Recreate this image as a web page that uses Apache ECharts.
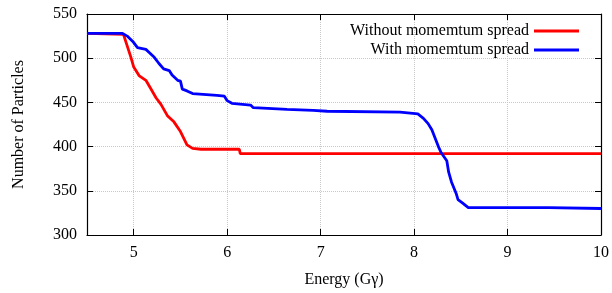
<!DOCTYPE html>
<html>
<head>
<meta charset="utf-8">
<script src="https://cdn.jsdelivr.net/npm/echarts@6/dist/echarts.min.js"></script>
<style>
  html, body { margin: 0; padding: 0; background: #fff; }
  #chart { width: 612px; height: 293px; }
</style>
</head>
<body>
<div id="chart"></div>
<script>
// values
const energyRed = [4.5, 4.89, 4.93, 4.97, 5.00, 5.06, 5.13, 5.18, 5.24, 5.29, 5.36, 5.43, 5.50, 5.57, 5.63, 5.72, 6.13, 6.14, 10];
const countRed = [528, 527, 514, 501, 490, 480, 475, 466, 455, 448, 435, 428, 417, 402, 398, 397, 397, 392, 392];

const energyBlue = [4.5, 4.88, 4.93, 4.99, 5.04, 5.13, 5.16, 5.22, 5.27, 5.32, 5.38, 5.41, 5.47, 5.50, 5.52, 5.57, 5.63, 5.89, 5.97, 6.00, 6.05, 6.25, 6.28, 6.64, 6.92, 7.07, 7.85, 8.04, 8.10, 8.15, 8.19, 8.26, 8.29, 8.35, 8.37, 8.40, 8.45, 8.47, 8.52, 8.58, 9.44, 9.46, 10];
const countBlue = [528, 528, 525, 519, 512, 510, 507, 501, 494, 488, 486, 481, 475, 474, 465, 463, 460, 458, 457, 452, 449, 447, 444, 442, 441, 440, 439, 437, 432, 426, 419, 400, 393, 384, 371, 360, 347, 340, 336, 331, 331, 330, 330];

const xTicks = [5, 6, 7, 8, 9, 10];
const seriesNames = ['Without momemtum spread', 'With momemtum spread'];

const font = 'Liberation Serif';
const chart = echarts.init(document.getElementById('chart'));

const zip = (xs, ys) => xs.map((x, i) => [x, ys[i]]);

const tickStyle = { show: true, inside: true, length: 6, lineStyle: { color: '#000', width: 1 } };
const lineStyleAxis = { show: true, lineStyle: { color: '#000', width: 1.2 } };
const grid = { show: true, type: 'dotted', color: '#c8c8c8', width: 1 };

chart.setOption({
  animation: false,
  grid: { left: 87, right: 10, top: 14, bottom: 52 },
  legend: {
    orient: 'vertical',
    right: 28,
    top: 18,
    align: 'right',
    itemGap: 3,
    itemWidth: 45,
    itemHeight: 3,
    icon: 'rect',
    textStyle: { fontFamily: font, fontSize: 16, color: '#000' },
    data: seriesNames
  },
  xAxis: [
    {
      type: 'value', min: 4.5, max: 10,
      name: 'Energy (Gγ)', nameLocation: 'middle', nameGap: 37,
      nameTextStyle: { fontFamily: font, fontSize: 16, color: '#000' },
      axisLine: lineStyleAxis,
      axisTick: Object.assign({ customValues: xTicks }, tickStyle),
      axisLabel: { customValues: xTicks, margin: 10, fontFamily: font, fontSize: 16, color: '#000' },
      splitLine: { show: true, lineStyle: grid }
    },
    {
      type: 'value', min: 4.5, max: 10, position: 'top',
      axisLine: lineStyleAxis,
      axisTick: Object.assign({ customValues: xTicks }, tickStyle),
      axisLabel: { show: false },
      splitLine: { show: false }
    }
  ],
  yAxis: [
    {
      type: 'value', min: 300, max: 550, interval: 50,
      name: 'Number of Particles', nameLocation: 'middle', nameGap: 60,
      nameTextStyle: { fontFamily: font, fontSize: 16, color: '#000' },
      axisLine: lineStyleAxis,
      axisTick: tickStyle,
      axisLabel: { margin: 10, fontFamily: font, fontSize: 16, color: '#000' },
      splitLine: { show: true, lineStyle: grid }
    },
    {
      type: 'value', min: 300, max: 550, interval: 50, position: 'right',
      axisLine: lineStyleAxis,
      axisTick: tickStyle,
      axisLabel: { show: false },
      splitLine: { show: false }
    }
  ],
  series: [
    {
      name: seriesNames[0], type: 'line', symbol: 'none',
      xAxisIndex: 0, yAxisIndex: 0,
      itemStyle: { color: '#ff0000' },
      lineStyle: { color: '#ff0000', width: 2.8 },
      data: zip(energyRed, countRed)
    },
    {
      name: seriesNames[1], type: 'line', symbol: 'none',
      xAxisIndex: 0, yAxisIndex: 0,
      itemStyle: { color: '#0000ff' },
      lineStyle: { color: '#0000ff', width: 2.8 },
      data: zip(energyBlue, countBlue)
    }
  ]
});
</script>
</body>
</html>
